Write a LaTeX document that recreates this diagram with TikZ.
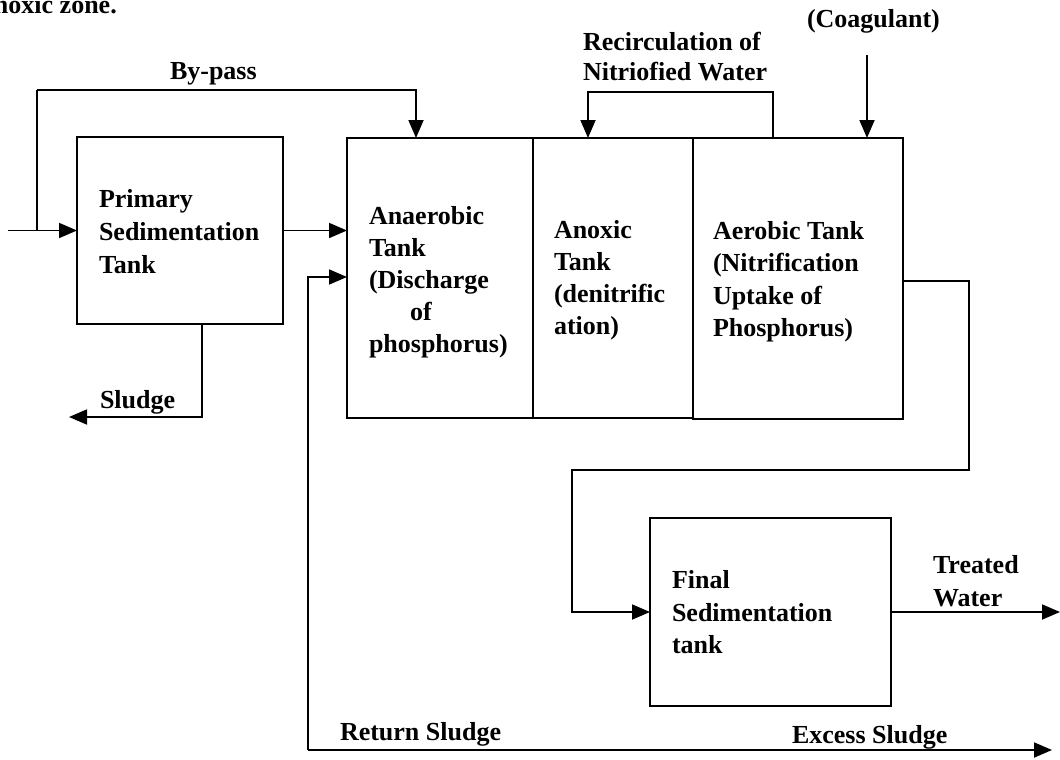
\documentclass[tikz,border=0pt]{standalone}
\usepackage{fontspec}
\setmainfont{Liberation Serif}
\usetikzlibrary{arrows.meta,calc}
\begin{document}
\begin{tikzpicture}[x=1pt,y=-1pt,
  tank/.style={draw, line width=2.2pt, inner sep=0pt, outer sep=0pt, anchor=north west},
  lbl/.style={inner sep=0pt, outer sep=0pt, anchor=north west, align=left},
  tag/.style={inner sep=0pt, outer sep=0pt, anchor=base west},
  pipe/.style={line width=1.8pt},
  flow/.style={pipe, -{Triangle[length=18pt,width=15pt]}},
  font=\bfseries\fontsize{26}{33}\selectfont
]
\useasboundingbox (0,0) rectangle (1060,760);
\clip (0,0) rectangle (1060,760);

% tanks
\node[tank, minimum width=206pt, minimum height=187pt] (prim) at (77,137) {};
\node[tank, minimum width=186pt, minimum height=280pt] (anaer) at (347,138) {};
\node[tank, minimum width=160pt, minimum height=280pt] (anox) at (533,138) {};
\node[tank, minimum width=210pt, minimum height=281pt] (aer) at (693,138) {};
\node[tank, minimum width=241pt, minimum height=188pt] (final) at (650,518) {};

% tank labels
\node[lbl] (primT) at (99,189.5) {Primary\\Sedimentation\\Tank};
\node[lbl, font=\bfseries\fontsize{26}{32}\selectfont] (anaerT) at (369,206.5)
  {Anaerobic\\Tank\\(Discharge\\\hspace*{41pt}of\\phosphorus)};
\node[lbl, font=\bfseries\fontsize{26}{32}\selectfont] (anoxT) at (554,220.5)
  {Anoxic\\Tank\\(denitrific\\ation)};
\node[lbl, font=\bfseries\fontsize{26}{32.3}\selectfont] (aerT) at (713,221.5)
  {Aerobic Tank\\(Nitrification\\Uptake of\\Phosphorus)};
\node[lbl, font=\bfseries\fontsize{26}{32.5}\selectfont] (finalT) at (672,570.5)
  {Final\\Sedimentation\\tank};

% flow labels
\node[tag] (zone) at (-6,14) {noxic zone.};
\node[tag] (bypassT) at (170,80) {By-pass};
\node[lbl, font=\bfseries\fontsize{26}{30}\selectfont] (recT) at (583,32.5)
  {Recirculation of\\Nitriofied Water};
\node[tag] (coagT) at (807,28) {(Coagulant)};
\node[tag] (sludgeT) at (100,408) {Sludge};
\node[lbl] (treatT) at (933,555.5) {Treated\\Water};
\node[tag] (excessT) at (792,743) {Excess Sludge};
\node[tag] (returnT) at (340,740) {Return Sludge};

% connector points
\coordinate (inflow) at (8,230.5);
\coordinate (bp) at (37,230.5);
\coordinate (bpTop) at (416,90);
\coordinate (slEnd) at (69,417);
\coordinate (rsCorner) at (308,750);
\coordinate (exEnd) at (1052,750);
\coordinate (recTop) at (588,92);
\coordinate (coagTop) at (867,55);
\coordinate (outR) at (969,470);
\coordinate (outL) at (572,470);
\coordinate (twEnd) at (1060,612);

% influent and by-pass
\draw[flow] (inflow) -- (prim.west);
\draw[pipe] (bp) -- (bp |- bpTop);
\draw[flow] (bp |- bpTop) -- (bpTop) -- (bpTop |- anaer.north);
\draw[flow] (prim.east) -- (prim.east -| anaer.west);

% primary sludge
\draw[flow] ($(prim.south west)+(125,0)$) |- (slEnd);

% nitrified water recirculation and coagulant dosing
\draw[flow] ($(aer.north west)+(80,0)$) |- (recTop) -- (recTop |- anox.north);
\draw[flow] (coagTop) -- (coagTop |- aer.north);

% aerobic tank to final sedimentation
\draw[flow] ($(aer.north east)+(0,143)$) -| (outR) -- (outL) |- (final.west);
\draw[flow] (final.east) -- (final.east -| twEnd);

% return and excess sludge
\draw[pipe] ($(final.south west)+(41,0)$) -- ($(final.south west)+(41,0)$ |- rsCorner);
\draw[flow] (rsCorner) -- (exEnd);
\draw[flow] (rsCorner) |- ($(anaer.north west)+(0,139)$);
\end{tikzpicture}
\end{document}
